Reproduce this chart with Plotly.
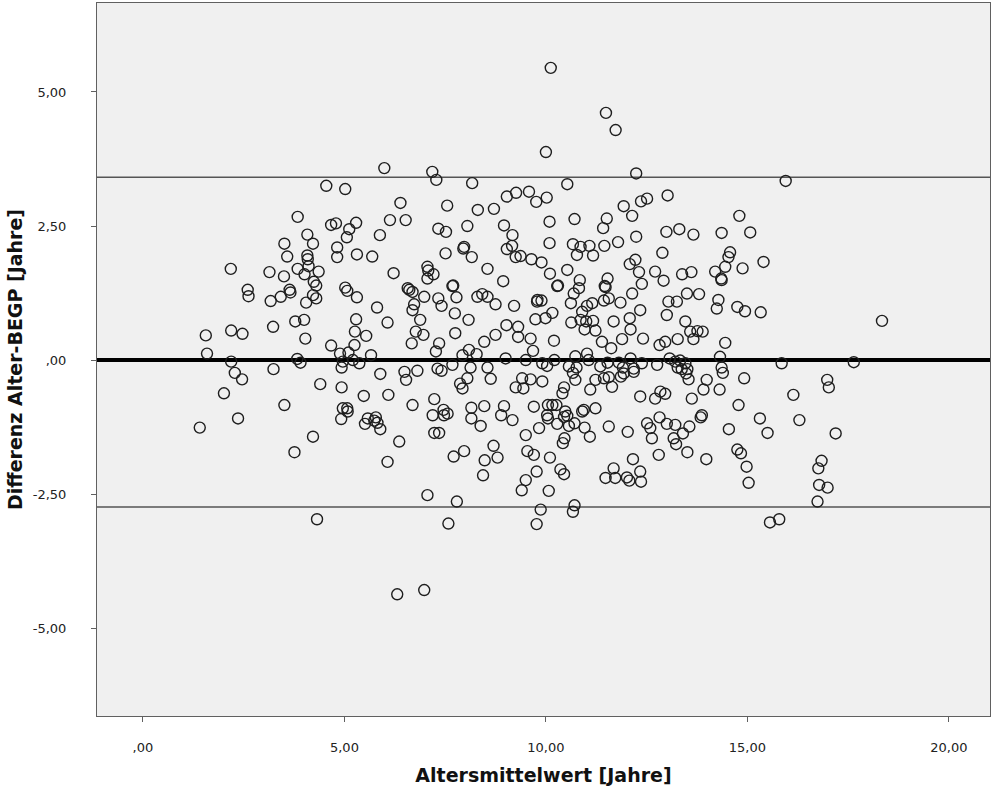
import plotly.graph_objects as go

# Bland-Altman: mean age (x) vs. difference age - BEGP (y), in years
points = [
    (10.12, 5.45), (11.49, 4.61), (11.73, 4.29), (10.00, 3.88), (5.99, 3.58), (7.18, 3.51), (7.28, 3.36),
    (8.17, 3.30), (12.24, 3.48), (15.95, 3.34), (10.53, 3.28), (4.55, 3.25), (5.02, 3.19), (9.03, 3.05),
    (9.26, 3.12), (9.58, 3.14), (9.76, 2.95), (6.39, 2.93), (7.55, 2.88), (8.31, 2.80), (8.71, 2.82),
    (6.13, 2.61), (6.52, 2.61), (5.29, 2.56), (5.12, 2.44), (5.06, 2.29), (5.88, 2.33), (4.79, 2.55),
    (7.33, 2.45), (7.52, 2.39), (8.05, 2.50), (8.96, 2.51), (9.17, 2.33), (9.16, 2.13), (9.03, 2.07),
    (9.25, 1.92), (9.37, 1.94), (9.64, 1.88), (9.89, 1.82), (4.82, 2.10), (4.82, 1.92), (5.31, 1.97),
    (5.69, 1.93), (7.51, 1.99), (7.97, 2.11), (7.95, 2.08), (8.16, 1.92), (6.22, 1.62), (7.06, 1.74),
    (7.08, 1.67), (7.21, 1.60), (7.06, 1.52), (8.55, 1.70), (8.94, 1.47), (7.70, 1.39), (6.57, 1.34),
    (5.02, 1.35),
    (3.84, 2.67), (4.67, 2.52), (3.51, 2.17), (4.08, 2.34), (4.22, 2.17), (3.58, 1.93), (4.08, 1.95),
    (4.09, 1.88), (2.18, 1.70), (3.14, 1.64), (3.50, 1.56), (3.84, 1.70), (4.01, 1.60), (4.11, 1.75),
    (4.36, 1.65), (4.24, 1.46), (4.30, 1.39), (2.60, 1.31), (3.64, 1.31),
    (10.02, 3.03), (13.02, 3.07), (11.93, 2.87), (12.14, 2.69), (12.36, 2.96), (12.51, 3.01), (14.80, 2.69),
    (10.09, 2.58), (10.71, 2.63), (11.51, 2.64), (11.42, 2.46), (12.99, 2.39), (13.31, 2.44), (13.66, 2.34),
    (14.36, 2.37), (10.09, 2.18), (10.67, 2.16), (10.86, 2.11), (11.08, 2.13), (10.77, 1.96), (11.17, 1.95),
    (11.45, 2.13), (11.79, 2.20), (12.24, 2.30), (12.89, 2.00), (12.22, 1.87), (12.08, 1.79), (12.31, 1.64),
    (12.71, 1.65), (12.92, 1.48), (13.38, 1.60), (13.61, 1.64), (14.57, 2.01), (14.53, 1.92), (14.45, 1.74),
    (14.20, 1.65), (14.35, 1.52), (14.88, 1.71), (10.10, 1.61), (10.53, 1.68), (10.84, 1.49), (11.53, 1.52),
    (10.30, 1.39), (11.46, 1.38), (12.38, 1.42),
    (15.07, 2.38), (15.40, 1.83),
    (2.62, 1.19), (3.17, 1.10), (3.42, 1.18), (3.66, 1.26), (4.22, 1.21), (4.30, 1.15), (4.05, 1.07),
    (1.56, 0.46), (2.19, 0.55), (2.47, 0.49), (3.23, 0.62), (3.78, 0.72), (4.00, 0.75), (4.03, 0.40),
    (4.67, 0.27), (4.89, 0.12), (4.93, -0.14), (4.93, -0.51), (4.96, -0.90), (1.59, 0.12), (2.19, -0.03),
    (2.28, -0.24), (2.46, -0.36), (2.01, -0.62), (3.24, -0.17), (3.83, 0.02), (3.91, -0.05), (4.40, -0.45),
    (3.51, -0.84), (2.36, -1.09),
    (1.41, -1.26), (3.76, -1.72), (4.22, -1.43), (4.32, -2.97), (4.92, -1.10),
    (5.07, 1.29), (5.31, 1.17), (5.81, 0.98), (6.07, 0.70), (6.61, 1.31), (6.69, 1.27), (6.98, 1.18),
    (6.73, 1.04), (6.69, 0.93), (7.33, 1.15), (7.41, 1.01), (7.68, 1.38), (7.78, 1.17), (7.74, 0.87),
    (6.88, 0.75), (6.77, 0.53), (6.96, 0.47), (6.67, 0.31), (5.29, 0.76), (5.26, 0.53), (5.54, 0.45),
    (5.25, 0.28), (5.10, 0.14), (5.66, 0.09), (4.96, -0.03), (5.21, 0.00), (5.37, -0.06), (8.08, 0.75),
    (7.75, 0.50), (7.35, 0.31), (7.27, 0.16), (7.93, 0.09), (8.09, 0.19), (8.28, 0.11), (8.47, 0.34),
    (8.75, 0.47), (9.02, 0.65), (9.31, 0.62), (9.31, 0.43), (9.62, 0.40), (9.68, 0.17), (9.74, 0.76),
    (9.78, 1.09), (9.21, 1.01), (8.75, 1.04), (8.55, 1.18), (8.30, 1.18), (8.42, 1.23), (9.00, 0.03),
    (9.50, 0.00), (5.89, -0.26), (6.49, -0.22), (6.81, -0.20), (6.53, -0.37), (7.31, -0.16), (7.41, -0.20),
    (7.68, -0.09), (8.13, -0.14), (8.05, -0.34), (7.87, -0.44), (7.93, -0.53), (8.55, -0.14), (8.63, -0.35),
    (9.25, -0.51), (9.41, -0.34), (9.62, -0.36), (9.44, -0.53), (5.48, -0.67), (6.09, -0.65), (5.07, -0.90),
    (6.69, -0.84), (7.23, -0.73), (7.46, -0.93), (8.15, -0.89), (8.47, -0.86), (8.96, -0.86), (5.58, -1.09),
    (5.78, -1.07), (7.19, -1.03), (7.56, -1.00), (9.70, -0.87),
    (10.28, 1.38), (9.79, 1.12), (9.89, 1.11), (10.69, 1.24), (10.62, 1.06), (10.82, 1.34), (11.48, 1.36),
    (11.56, 1.15), (11.44, 1.11), (11.85, 1.07), (12.14, 1.24), (13.50, 1.24), (13.80, 1.23), (14.36, 1.49),
    (13.04, 1.09), (13.25, 1.09), (13.00, 0.84), (13.46, 0.72), (14.28, 1.12), (14.24, 0.96), (14.75, 0.99),
    (10.16, 0.88), (9.99, 0.78), (10.63, 0.70), (10.90, 0.90), (11.02, 1.01), (11.15, 1.06), (10.86, 0.75),
    (11.00, 0.72), (11.17, 0.73), (10.96, 0.57), (11.23, 0.55), (11.39, 0.34), (11.68, 0.72), (12.08, 0.78),
    (12.10, 0.57), (12.34, 0.93), (11.89, 0.39), (12.41, 0.40), (10.20, 0.36), (10.73, 0.07), (11.02, 0.12),
    (11.62, 0.22), (12.10, 0.03), (12.82, 0.28), (12.96, 0.34), (13.27, 0.39), (13.66, 0.39), (13.58, 0.53),
    (13.76, 0.54), (13.89, 0.53), (14.45, 0.32), (14.32, 0.06), (9.91, -0.06), (10.03, -0.11), (10.21, 0.00),
    (10.57, -0.12), (10.76, -0.14), (11.06, 0.00), (11.35, -0.12), (11.53, -0.05), (11.81, -0.05),
    (11.91, -0.14), (12.18, -0.16), (12.38, -0.06), (12.76, -0.09), (13.07, 0.03), (13.21, -0.03),
    (13.33, -0.01), (13.46, -0.06), (13.27, -0.14), (13.37, -0.17), (13.51, -0.17), (13.48, -0.25),
    (13.54, -0.36), (14.36, -0.14), (14.39, -0.24), (9.91, -0.40), (10.67, -0.24), (10.73, -0.37),
    (10.45, -0.51), (10.41, -0.62), (11.23, -0.37), (11.10, -0.55), (11.44, -0.34), (11.56, -0.32),
    (11.64, -0.50), (11.86, -0.31), (11.93, -0.25), (12.18, -0.22), (12.34, -0.68), (12.71, -0.72),
    (12.84, -0.59), (12.96, -0.63), (13.62, -0.72), (13.91, -0.55), (13.99, -0.37), (14.31, -0.55),
    (14.78, -0.84), (13.87, -1.03), (10.05, -0.84), (10.16, -0.84), (10.26, -0.84), (10.94, -0.93),
    (11.23, -0.90), (10.03, -1.03), (10.48, -0.96), (10.53, -1.04),
    (14.94, 0.91), (15.33, 0.89), (18.34, 0.73), (15.85, -0.06), (17.64, -0.04), (14.92, -0.34),
    (16.98, -0.37), (17.02, -0.51), (16.14, -0.65), (15.31, -1.09), (16.29, -1.12),
    (5.08, -0.96), (5.51, -1.19), (5.74, -1.13), (5.82, -1.17), (5.89, -1.29), (6.36, -1.52), (6.07, -1.90),
    (7.47, -1.03), (7.23, -1.36), (7.35, -1.36), (7.71, -1.80), (7.97, -1.70), (8.15, -1.09), (8.38, -1.23),
    (8.89, -1.03), (9.17, -1.12), (8.70, -1.60), (8.48, -1.87), (8.80, -1.82), (8.44, -2.15), (9.50, -1.40),
    (9.54, -1.70), (9.70, -1.77), (9.77, -2.08), (9.50, -2.24), (9.40, -2.43), (9.83, -1.27), (7.06, -2.52),
    (7.79, -2.64), (7.58, -3.05), (9.87, -2.79), (9.77, -3.06),
    (10.05, -1.09), (10.28, -1.19), (10.45, -1.06), (10.57, -1.23), (10.71, -1.18), (10.90, -0.96),
    (10.96, -1.26), (11.09, -1.43), (10.46, -1.46), (10.42, -1.55), (11.56, -1.24), (12.03, -1.34),
    (12.51, -1.18), (12.59, -1.27), (12.63, -1.46), (12.82, -1.07), (13.00, -1.19), (13.21, -1.21),
    (13.17, -1.46), (13.23, -1.57), (13.40, -1.37), (13.56, -1.24), (13.84, -1.07), (13.51, -1.72),
    (13.98, -1.85), (12.80, -1.77), (12.16, -1.85), (14.54, -1.29), (14.75, -1.67), (14.84, -1.74),
    (10.10, -1.82), (10.36, -2.04), (10.45, -2.13), (10.07, -2.44), (11.68, -2.02), (11.48, -2.20),
    (11.72, -2.20), (12.01, -2.19), (12.07, -2.25), (12.34, -2.08), (12.36, -2.27), (10.71, -2.71),
    (10.67, -2.83),
    (15.50, -1.36), (17.19, -1.37), (14.98, -1.99), (15.03, -2.29), (16.84, -1.88), (16.76, -2.02),
    (16.78, -2.33), (16.99, -2.38), (16.74, -2.64), (15.56, -3.03), (15.79, -2.97),
    (6.31, -4.37), (6.98, -4.29),
]
mean_age = [p[0] for p in points]
difference = [p[1] for p in points]

upper_limit = 3.41
lower_limit = -2.74
zero_line = 0.0

x_ticks = [0, 5, 10, 15, 20]
x_tick_labels = [",00", "5,00", "10,00", "15,00", "20,00"]
y_ticks = [-5, -2.5, 0, 2.5, 5]
y_tick_labels = ["-5,00", "-2,50", ",00", "2,50", "5,00"]

font_family = "DejaVu Sans, Verdana, sans-serif"

fig = go.Figure()
fig.add_trace(go.Scatter(
    x=mean_age, y=difference, mode="markers",
    marker=dict(symbol="circle-open", size=11, color="#1e1e1e", line=dict(width=1.4, color="#1e1e1e")),
    hoverinfo="x+y", showlegend=False,
))

shapes = [
    dict(type="line", xref="paper", yref="y", x0=0, x1=1, y0=upper_limit, y1=upper_limit,
         line=dict(color="#555555", width=1.5), layer="below"),
    dict(type="line", xref="paper", yref="y", x0=0, x1=1, y0=lower_limit, y1=lower_limit,
         line=dict(color="#555555", width=1.5), layer="below"),
    dict(type="line", xref="paper", yref="y", x0=0, x1=1, y0=zero_line, y1=zero_line,
         line=dict(color="#000000", width=4), layer="below"),
]

fig.update_layout(
    width=991, height=794,
    margin=dict(l=97, r=1, t=3, b=78),
    paper_bgcolor="white", plot_bgcolor="#f0f0f0",
    font=dict(family=font_family, color="#222222", size=13),
    shapes=shapes,
    xaxis=dict(
        range=[-1.14, 21.02], tickvals=x_ticks, ticktext=x_tick_labels,
        showgrid=False, zeroline=False, showline=True, mirror=True, linecolor="#606060", linewidth=1,
        ticks="outside", ticklen=5, tickcolor="#606060", ticklabelstandoff=14,
        title=dict(text="<b>Altersmittelwert [Jahre]</b>", font=dict(size=19, color="#111111"), standoff=15),
    ),
    yaxis=dict(
        range=[-6.64, 6.66], tickvals=y_ticks, ticktext=y_tick_labels,
        showgrid=False, zeroline=False, showline=True, mirror=True, linecolor="#606060", linewidth=1,
        ticks="outside", ticklen=5, tickcolor="#606060", ticklabelstandoff=22,
        title=dict(text="<b>Differenz Alter-BEGP [Jahre]</b>", font=dict(size=19, color="#111111"), standoff=5),
    ),
)

fig.write_html("out.html")
